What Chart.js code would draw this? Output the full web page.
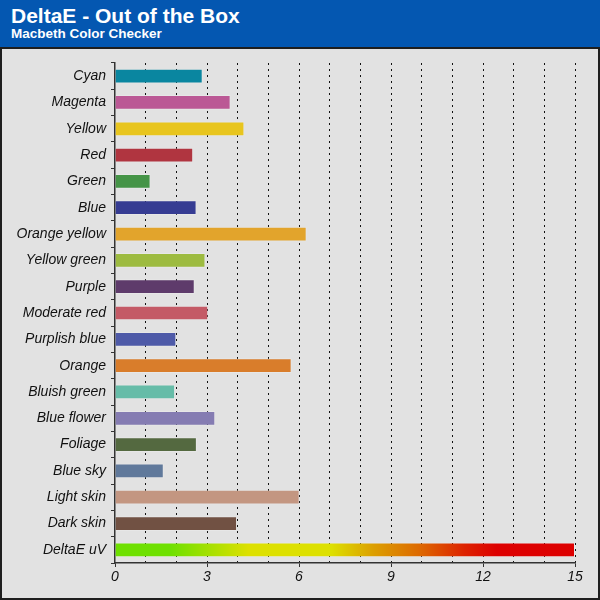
<!DOCTYPE html>
<html>
<head>
<meta charset="utf-8">
<script src="https://cdn.jsdelivr.net/npm/chart.js@4.4.0/dist/chart.umd.min.js"></script>
<style>
  body { margin: 0; width: 600px; height: 600px; overflow: hidden; font-family: "Liberation Sans", Arial, sans-serif; }
  #header { position: absolute; left: 0; top: 0; width: 600px; height: 47px; background: #0457b1; color: #fff; }
  #title { position: absolute; left: 11px; top: 4px; font-size: 21px; font-weight: bold; }
  #subtitle { position: absolute; left: 11px; top: 26px; font-size: 13.5px; font-weight: bold; }
  #panel { position: absolute; left: 0; top: 47px; width: 596px; height: 549px; background: #e2e2e2; border: 2px solid #1e1e1e; }
  #wrap { position: absolute; left: 0; top: 0; width: 596px; height: 549px; }
</style>
</head>
<body>
<div id="header">
  <div id="title">DeltaE - Out of the Box</div>
  <div id="subtitle">Macbeth Color Checker</div>
</div>
<div id="panel">
  <div id="wrap"><canvas id="chart"></canvas></div>
</div>
<script>
const categories = ['Cyan', 'Magenta', 'Yellow', 'Red', 'Green', 'Blue', 'Orange yellow', 'Yellow green',
  'Purple', 'Moderate red', 'Purplish blue', 'Orange', 'Bluish green', 'Blue flower', 'Foliage',
  'Blue sky', 'Light skin', 'Dark skin', 'DeltaE uV'];
const deltaE = [2.86, 3.77, 4.22, 2.55, 1.16, 2.66, 6.25, 2.95, 2.60, 3.04, 2.00, 5.76, 1.96, 3.27,
  2.67, 1.59, 6.02, 3.98, 15];
const barColors = ['#0a86a0', '#bb5895', '#e8c51e', '#b03540', '#459447', '#363c93', '#e2a42c', '#9dbb40',
  '#5e3b6b', '#c45a66', '#4e5aa8', '#d97d2b', '#66bca8', '#857cb2', '#546940', '#60799b', '#c39681',
  '#715143', null];
const xTicks = [0, 3, 6, 9, 12, 15];

// gradient for the DeltaE uV scale bar
function scaleGradient(chart) {
  const area = chart.chartArea;
  if (!area) return '#dddd00';
  const g = chart.ctx.createLinearGradient(area.left, 0, area.right, 0);
  g.addColorStop(0, '#6ee000');
  g.addColorStop(0.12, '#6ee000');
  g.addColorStop(0.29, '#dde000');
  g.addColorStop(0.47, '#dde000');
  g.addColorStop(0.56, '#dca000');
  g.addColorStop(0.66, '#dd6a00');
  g.addColorStop(0.76, '#dd2200');
  g.addColorStop(0.83, '#dd0000');
  g.addColorStop(1, '#dd0000');
  return g;
}

const ctx = document.getElementById('chart').getContext('2d');
new Chart(ctx, {
  type: 'bar',
  data: {
    labels: categories,
    datasets: [{
      data: deltaE,
      backgroundColor: function(c) {
        const col = barColors[c.dataIndex];
        return col ? col : scaleGradient(c.chart);
      },
      borderColor: 'rgba(255,255,255,0.2)',
      borderWidth: 1,
      borderSkipped: 'left',
      barPercentage: 0.56,
      categoryPercentage: 1.0
    }]
  },
  options: {
    indexAxis: 'y',
    responsive: true,
    maintainAspectRatio: false,
    animation: false,
    layout: { padding: { left: 0, top: 14, right: 23, bottom: 5 } },
    plugins: { legend: { display: false }, tooltip: { enabled: false } },
    scales: {
      x: {
        min: 0,
        max: 15,
        afterFit: function(scale) { scale.height = 30; },
        ticks: {
          stepSize: 1,
          autoSkip: false,
          maxRotation: 0,
          padding: 2,
          color: '#111',
          font: { family: '"Liberation Sans", Arial', size: 14, style: 'italic' },
          callback: function(v) { return xTicks.includes(v) ? v : ''; }
        },
        grid: {
          color: function(c) { return c.tick && c.tick.value === 0 ? 'transparent' : '#111'; },
          lineWidth: 1,
          tickLength: 4,
          tickColor: function(c) { return c.tick && xTicks.includes(c.tick.value) ? '#333' : 'transparent'; }
        },
        border: { display: true, color: '#333', width: 1.5, dash: [2, 4] }
      },
      y: {
        afterFit: function(scale) { scale.width = 113; },
        ticks: {
          padding: 5,
          color: '#111',
          font: { family: '"Liberation Sans", Arial', size: 14, style: 'italic' }
        },
        grid: {
          offset: true,
          drawOnChartArea: false,
          tickLength: 4,
          tickColor: '#333'
        },
        border: { display: true, color: '#333', width: 1.5 }
      }
    }
  }
});
</script>
</body>
</html>
